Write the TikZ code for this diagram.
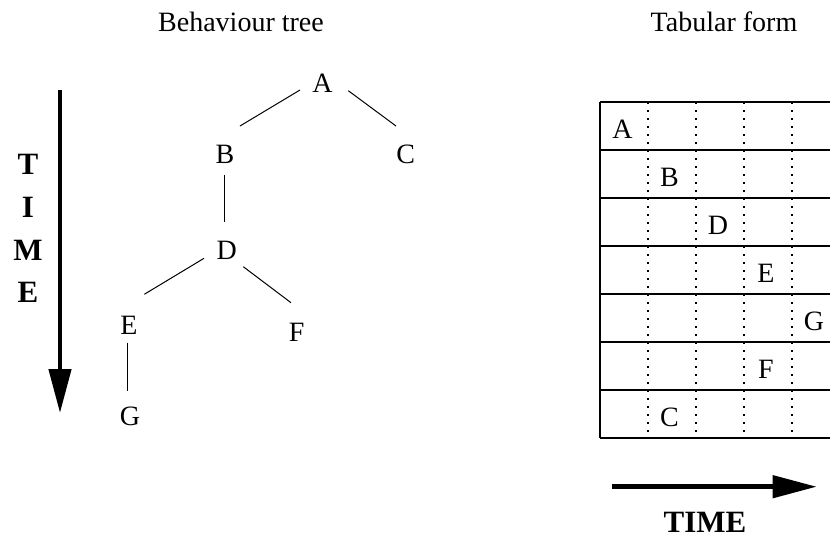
\documentclass[tikz,border=0pt]{standalone}
\usepackage{fontspec}
\setmainfont{Liberation Serif}
\usetikzlibrary{arrows.meta,calc}
\begin{document}
\begin{tikzpicture}[x=1pt,y=-1pt,
  lbl/.style={inner sep=0pt,font=\fontsize{28}{32}\selectfont},
  ttl/.style={inner sep=0pt,anchor=base,font=\fontsize{28}{32}\selectfont},
  bigtime/.style={inner sep=0pt,font=\fontsize{31}{42.7}\selectfont\bfseries},
  edge/.style={line width=1pt},
  grid/.style={line width=1.3pt},
  dots/.style={line width=1.2pt,dash pattern=on 1.5pt off 6.5pt},
  timearrow/.style={line width=4.5pt,-{Triangle[length=44pt,width=22pt]}}]
\useasboundingbox (0,0) rectangle (830,539);
% titles
\node[ttl] (t1) at (241,31.7) {Behaviour tree};
\node[ttl] (t2) at (724,31) {Tabular form};
% tree
\node[lbl] (A) at (322.5,83.3) {A};
\node[lbl] (B) at (225,154.3) {B};
\node[lbl] (C) at (405.7,154.3) {C};
\node[lbl] (D) at (226.7,250.7) {D};
\node[lbl] (E) at (129,325) {E};
\node[lbl] (F) at (296.7,332.7) {F};
\node[lbl] (G) at (130,416.7) {G};
\draw[edge] ($(A)+(-22.5,6.7)$) -- ($(B)+(15,-28.3)$);
\draw[edge] ($(A)+(25.8,7.4)$) -- ($(C)+(-9.7,-28.3)$);
\draw[edge] ($(B)+(-1,20.7)$) -- ($(D)+(-2.7,-28.4)$);
\draw[edge] ($(D)+(-22.7,7.6)$) -- ($(E)+(15.3,-30.7)$);
\draw[edge] ($(D)+(16.6,16)$) -- ($(F)+(-5.7,-30)$);
\draw[edge] ($(E)+(-1.7,17.7)$) -- ($(G)+(-2.7,-25.7)$);
% vertical time arrow
\coordinate (vs) at (60,90);
\coordinate (ve) at (60,413);
\draw[timearrow] (vs) -- (ve);
\node[bigtime,align=center] (vt) at (28,228.5) {T\\I\\M\\E};
% table
\foreach \k in {0,...,7} {
  \coordinate (hl\k) at (600,102+48*\k);
  \coordinate (hr\k) at (830,102+48*\k);
  \draw[grid] (hl\k) -- (hr\k);
}
\draw[grid] (hl0) -- (hl7);
\foreach \c in {1,...,4} {
  \coordinate (vt\c) at (600+48*\c,102);
  \coordinate (vb\c) at (600+48*\c,438);
  \draw[dots] (vt\c) -- (vb\c);
}
\node[lbl] (tA) at (622.5,129.5) {A};
\node[lbl] (tB) at (669.5,177.5) {B};
\node[lbl] (tD) at (718,225.5) {D};
\node[lbl] (tE) at (766,273.5) {E};
\node[lbl] (tG) at (814,321.5) {G};
\node[lbl] (tF) at (766,369.5) {F};
\node[lbl] (tC) at (669.5,417.5) {C};
% horizontal time arrow
\coordinate (hs) at (611.7,486.7);
\coordinate (he) at (816.7,486.7);
\draw[timearrow] (hs) -- (he);
\node[bigtime,anchor=base] (ht) at (705,532.3) {TIME};
\end{tikzpicture}
\end{document}
